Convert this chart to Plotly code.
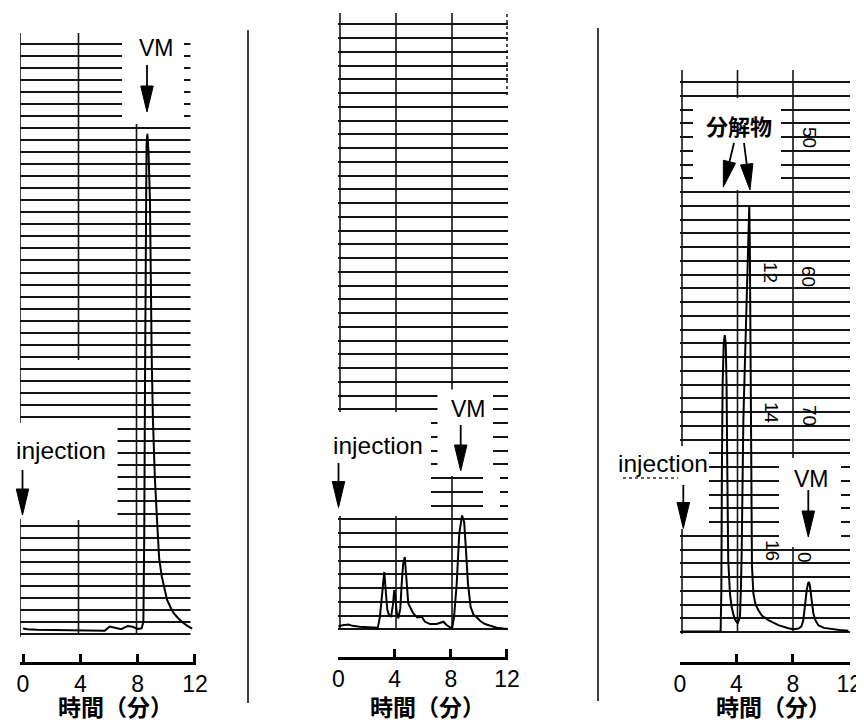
import plotly.graph_objects as go

# ---------------- data ----------------
# time in minutes, signal in chart-paper divisions above the bottom grid line
time_1 = [0.0, 0.3, 1.0, 2.0, 3.0, 4.0, 5.0, 5.7, 6.05, 6.4, 6.85, 7.3, 7.65, 8.0, 8.28,
          8.40, 8.46, 8.52, 8.57, 8.62, 8.68, 8.76, 8.86, 8.92, 8.98, 9.07, 9.2, 9.35, 9.5,
          9.68, 9.85, 10.05, 10.3, 10.5, 10.8, 11.1, 11.45, 11.8]
signal_1 = [0.45, 0.4, 0.36, 0.33, 0.31, 0.29, 0.27, 0.27, 0.62, 0.52, 0.4, 0.66, 0.6, 0.42, 0.47,
            1.0, 8.0, 22.0, 34.0, 40.5, 41.5, 40.0, 36.0, 28.0, 23.0, 17.7, 13.0, 9.5, 6.3,
            4.8, 3.8, 2.85, 2.2, 1.75, 1.35, 1.0, 0.7, 0.45]

time_2 = [0.0, 0.3, 0.7, 1.0, 1.5, 2.2, 2.8, 2.95, 3.05, 3.15, 3.26, 3.38, 3.48, 3.62, 3.75,
          3.88, 3.97, 4.05, 4.15, 4.26, 4.4, 4.5, 4.6, 4.72, 4.86, 4.97, 5.09, 5.33, 5.61,
          5.93, 6.16, 6.52, 6.99, 7.47, 7.7, 7.99, 8.1, 8.23, 8.42, 8.6, 8.8, 8.95, 9.08,
          9.22, 9.41, 9.6, 9.84, 10.1, 10.43, 10.8, 11.27, 11.74, 12.0]
signal_2 = [0.2, 0.3, 0.35, 0.25, 0.19, 0.15, 0.12, 0.9, 2.0, 3.1, 4.17, 2.6, 1.4, 0.98, 0.95,
            1.8, 2.85, 2.3, 1.2, 0.8, 1.5, 3.3, 4.7, 5.26, 3.57, 1.88, 1.64, 1.16, 0.87,
            0.91, 0.55, 0.38, 0.38, 0.55, 0.31, 0.1, 0.14, 0.91, 3.33, 6.95, 8.28, 7.8, 5.74,
            3.33, 1.64, 1.1, 0.87, 0.6, 0.38, 0.25, 0.12, 0.05, 0.02]

time_3 = [0.1, 1.0, 2.0, 2.8, 2.88, 2.93, 2.97, 3.02, 3.1, 3.17, 3.24, 3.3, 3.35, 3.42, 3.54,
          3.66, 3.78, 3.9, 4.09, 4.25, 4.32, 4.37, 4.49, 4.6, 4.73, 4.85, 4.91, 4.95, 4.99,
          5.02, 5.05, 5.1, 5.2, 5.35, 5.55, 5.8, 6.26, 6.97, 7.68, 8.03, 8.4, 8.6, 8.74,
          8.86, 8.98, 9.08, 9.14, 9.2, 9.28, 9.36, 9.45, 9.6, 9.8, 10.2, 10.75, 11.3, 11.93]
signal_3 = [0.03, 0.03, 0.03, 0.03, 0.1, 3.0, 12.0, 18.0, 21.0, 21.6, 21.0, 18.0, 12.0, 5.2, 2.8,
            1.83, 1.3, 0.9, 0.63, 1.1, 3.3, 5.7, 15.4, 20.0, 25.0, 30.0, 31.0, 28.0, 20.0,
            13.0, 7.5, 4.8, 2.8, 2.0, 1.6, 1.2, 0.87, 0.5, 0.27, 0.2, 0.25, 0.4, 0.87,
            2.0, 3.04, 3.55, 3.64, 3.4, 2.8, 2.0, 1.35, 0.85, 0.5, 0.3, 0.2, 0.15, 0.1]

tick_values = [0, 4, 8, 12]
tick_labels = ["0", "4", "8", "12"]
x_title = "時間（分）"
peak_label = "VM"
injection_label = "injection"
product_label = "分解物"
paper_numbers = ["50", "60", "70", "0", "12", "14", "16"]

# ---------------- layout helpers ----------------
# the page body has an 8 px margin, so the figure is drawn 8 px smaller and
# screen positions are shifted by that offset
OFF = 8
W, H = 864 - OFF, 723 - OFF
def px(x):
    return (x - OFF) / W
def py(y):
    return 1 - (y - OFF) / H

panels = [
    dict(t=time_1, s=signal_1, dom_x=(20, 196), dom_y=(33, 662), x0=23.0, sx=14.33, y0=634.0, sy=12.05, n_grid=49,
         vlines=[(20, 33, 637), (78.5, 33, 360), (78.5, 520, 634), (136.5, 33, 634)],
         boxes=[(122, 184, 20, 124), (-5, 117.5, 423, 519), (190.5, 205, 20, 636)]),
    dict(t=time_2, s=signal_2, dom_x=(338, 508), dom_y=(13, 657), x0=338.5, sx=14.04, y0=629.3, sy=13.75, n_grid=44,
         vlines=[(340, 13, 630), (396, 13, 630), (452, 13, 630)],
         boxes=[(315, 431, 412, 516), (437.5, 493, 389.5, 476), (483, 500, 470, 514)]),
    dict(t=time_3, s=signal_3, dom_x=(680, 850), dom_y=(70, 662), x0=680.0, sx=14.11, y0=632.0, sy=13.75, n_grid=40,
         vlines=[(682, 70, 634), (737.5, 70, 632), (793, 70, 632)],
         boxes=[(693, 781, 98, 190), (590, 709, 446, 529), (779, 841, 458, 547)]),
]

fig = go.Figure()
shapes = []
layout = {}
GRID = "#151515"

for i, p in enumerate(panels):
    sfx = "" if i == 0 else str(i + 1)
    xa, ya = "x" + sfx, "y" + sfx
    tx = lambda v, p=p: (v - p["x0"]) / p["sx"]
    ty = lambda v, p=p: (p["y0"] - v) / p["sy"]
    fig.add_trace(go.Scatter(x=p["t"], y=p["s"], mode="lines", xaxis=xa, yaxis=ya,
                             line=dict(color="black", width=2), hoverinfo="skip", showlegend=False))
    layout["xaxis" + sfx] = dict(
        domain=[px(p["dom_x"][0]), px(p["dom_x"][1])],
        range=[tx(p["dom_x"][0]), tx(p["dom_x"][1])],
        anchor=ya, showgrid=False, zeroline=False, automargin=False,
        showline=True, linecolor="black", linewidth=2.5,
        ticks="inside", ticklen=8, tickwidth=2.5, tickcolor="black",
        tickvals=tick_values, ticktext=tick_labels,
        tickfont=dict(family="Liberation Sans, Arial, sans-serif", size=23, color="black"),
        fixedrange=True)
    layout["yaxis" + sfx] = dict(
        domain=[py(p["dom_y"][1]), py(p["dom_y"][0])],
        range=[ty(p["dom_y"][1]), ty(p["dom_y"][0])],
        anchor=xa, showgrid=True, gridcolor=GRID, gridwidth=1.5, automargin=False,
        tickvals=list(range(p["n_grid"] + 1)), showticklabels=False, ticks="",
        zeroline=False, showline=False, fixedrange=True)
    for (xv, y_top, y_bot) in p["vlines"]:
        shapes.append(dict(type="line", xref=xa, yref=ya, x0=tx(xv), x1=tx(xv), y0=ty(y_bot), y1=ty(y_top),
                           line=dict(color=GRID, width=1.6), layer="between"))
    if i == 1:
        shapes.append(dict(type="line", xref=xa, yref=ya, x0=tx(507), x1=tx(507), y0=ty(95), y1=ty(13),
                           line=dict(color=GRID, width=1.5, dash="dot"), layer="between"))
    for (bx0, bx1, by0, by1) in p["boxes"]:
        shapes.append(dict(type="rect", xref=xa, yref=ya, x0=tx(bx0), x1=tx(bx1), y0=ty(by1), y1=ty(by0),
                           fillcolor="white", line=dict(width=0), layer="between"))

# separators between panels, and the faint dotted rule under the third "injection"
for (sx_, yt, yb) in [(248, 30, 703), (598, 28, 701)]:
    shapes.append(dict(type="line", xref="paper", yref="paper", x0=px(sx_), x1=px(sx_), y0=py(yb), y1=py(yt),
                       line=dict(color="black", width=1.5), layer="above"))
shapes.append(dict(type="line", xref="paper", yref="paper", x0=px(623), x1=px(678), y0=py(478), y1=py(478),
                   line=dict(color="#333", width=1.3, dash="dot"), layer="above"))

# arrows (shaft + long filled head)
def arrow(xs, ys, xt, yt, head_len=26, head_w=12.5):
    dx, dy = xt - xs, yt - ys
    L = (dx * dx + dy * dy) ** 0.5
    ux, uy = dx / L, dy / L
    bx, by = xt - ux * head_len, yt - uy * head_len
    nx, ny = -uy, ux
    out = [dict(type="line", xref="paper", yref="paper", x0=px(xs), y0=py(ys), x1=px(bx), y1=py(by),
                line=dict(color="black", width=1.8), layer="above")]
    pts = [(xt, yt), (bx + nx * head_w / 2, by + ny * head_w / 2), (bx - nx * head_w / 2, by - ny * head_w / 2)]
    path = "M " + " L ".join(f"{px(a):.5f},{py(b):.5f}" for a, b in pts) + " Z"
    out.append(dict(type="path", xref="paper", yref="paper", path=path, fillcolor="black",
                    line=dict(color="black", width=1), layer="above"))
    return out

for a in [(147, 65, 147, 112), (22.5, 470, 22.5, 515), (460.7, 425, 460.7, 471),
          (338.5, 463, 338.5, 507.5), (734, 143, 723.3, 187), (744, 143, 750, 190),
          (683.3, 485, 683.3, 528.5), (808.3, 490, 808.3, 537)]:
    shapes += arrow(*a)

annotations = []
LAT = "Liberation Sans, Arial, sans-serif"
CJK = "Noto Sans CJK JP, sans-serif"
MIX = "Liberation Sans, Noto Sans CJK JP, sans-serif"
def label(text, x, y, size, family=LAT, angle=0, yanchor="middle"):
    annotations.append(dict(text=text, x=px(x), y=py(y), xref="paper", yref="paper", showarrow=False,
                            xanchor="center", yanchor=yanchor, textangle=angle,
                            font=dict(family=family, size=size, color="black")))

label(peak_label, 156.7, 48.3, 23)
label(injection_label, 60.8, 451, 24.5)
label(peak_label, 469, 408.5, 23)
label(injection_label, 377.5, 445, 24.5)
label(peak_label, 811.7, 479, 23)
label(injection_label, 663.3, 463.3, 24.5)
label("<b>" + product_label + "</b>", 739, 125, 22, CJK)
for x in [115, 427, 773]:
    label("<b>" + x_title + "</b>", x, 722.5, 23, MIX, yanchor="bottom")
for txt, (x, y) in zip(paper_numbers, [(809, 137), (808, 276), (810, 415), (805, 557),
                                       (771, 272), (772, 413), (773, 550)]):
    label(txt, x, y, 19, LAT, 90)

fig.update_layout(**layout)
fig.update_layout(width=W, height=H, autosize=False,
                  margin=dict(l=0, r=0, t=0, b=0, pad=0, autoexpand=False),
                  paper_bgcolor="white", plot_bgcolor="white", showlegend=False,
                  shapes=shapes, annotations=annotations,
                  font=dict(family=LAT, color="black"))

fig.write_html("out.html")
